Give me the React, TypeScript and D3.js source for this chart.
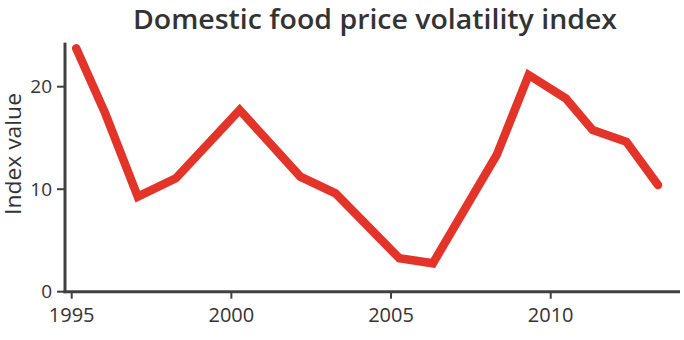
import React from "react";
import * as d3 from "d3";

const years = [1995.14, 1996.05, 1997.07, 1998.26, 2000.26, 2002.16, 2003.26, 2005.26, 2006.31, 2008.31, 2009.31, 2010.47, 2011.31, 2012.37, 2013.36];
const values = [23.75, 17.4, 9.27, 11.06, 17.73, 11.22, 9.6, 3.26, 2.77, 13.34, 21.14, 18.87, 15.78, 14.63, 10.41];
const xTicks = [1995, 2000, 2005, 2010];
const yTicks = [0, 10, 20];
const title = "Domestic food price volatility index";
const yLabel = "Index value";

export default function App() {
  const W = 684, H = 340;
  const x = d3.scaleLinear().domain([1995, 2010]).range([71.7, 550.7]);
  const y = d3.scaleLinear().domain([0, 20]).range([291.7, 86.7]);
  const axisX0 = 65;
  const line = d3.line<number>().x((_, i) => x(years[i])).y((d) => y(d));
  const axisColor = "#404040";
  const font = "'Open Sans', sans-serif";
  return (
    <svg width={W} height={H} style={{ position: "absolute", left: 0, top: 0 }}>
      <text x={375} y={29} textAnchor="middle" fontFamily={font} fontWeight={600} fontSize={27} fill="#333" textLength={484} lengthAdjust="spacingAndGlyphs">{title}</text>
      <text transform={`translate(21,154) rotate(-90)`} textAnchor="middle" fontFamily={font} fontSize={21} fill="#333" textLength={122} lengthAdjust="spacingAndGlyphs">{yLabel}</text>
      {/* y axis */}
      <line x1={axisX0} x2={axisX0} y1={y(24.3)} y2={y(0) + 1.5} stroke={axisColor} strokeWidth={3} />
      {yTicks.map((t) => (
        <g key={t}>
          <line x1={axisX0 - 8} x2={axisX0} y1={y(t)} y2={y(t)} stroke={axisColor} strokeWidth={2} />
          <text x={axisX0 - 13} y={y(t)} dy="0.35em" textAnchor="end" fontFamily={font} fontSize={19} fill="#333">{t}</text>
        </g>
      ))}
      {/* x axis */}
      <line x1={axisX0 - 1.5} x2={680} y1={y(0)} y2={y(0)} stroke={axisColor} strokeWidth={3} />
      {xTicks.map((t) => (
        <g key={t}>
          <line x1={x(t)} x2={x(t)} y1={y(0)} y2={y(0) + 7} stroke={axisColor} strokeWidth={2} />
          <text x={x(t)} y={y(0) + 30} textAnchor="middle" fontFamily={font} fontSize={20} fill="#333">{t}</text>
        </g>
      ))}
      <path d={line(values) || ""} fill="none" stroke="#e3342a" strokeWidth={8.5} strokeLinejoin="miter" strokeLinecap="round" />
    </svg>
  );
}
